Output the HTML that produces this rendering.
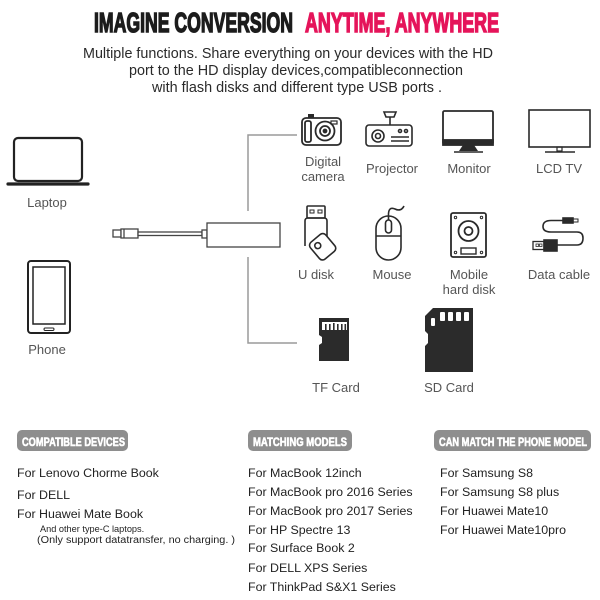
<!DOCTYPE html>
<html><head><meta charset="utf-8"><style>
html,body{margin:0;padding:0;background:#fff;}
svg{display:block;}
</style></head><body>
<svg width="600" height="600" viewBox="0 0 600 600" xmlns="http://www.w3.org/2000/svg" font-family="Liberation Sans, sans-serif">
<rect width="600" height="600" fill="#fff"/>
<!-- Title -->
<text x="94" y="32" font-size="27.5" font-weight="bold" fill="#1c1c1c" stroke="#1c1c1c" stroke-width="1.5" textLength="199" lengthAdjust="spacingAndGlyphs">IMAGINE CONVERSION</text>
<text x="305" y="32" font-size="27.5" font-weight="bold" fill="#e5145a" stroke="#e5145a" stroke-width="1.5" textLength="194" lengthAdjust="spacingAndGlyphs">ANYTIME, ANYWHERE</text>
<g fill="#2a2a2a" font-size="14.5">
<text x="83" y="58" textLength="410" lengthAdjust="spacingAndGlyphs">Multiple functions. Share everything on your devices with the HD</text>
<text x="129" y="75" textLength="334" lengthAdjust="spacingAndGlyphs">port to the HD display devices,compatibleconnection</text>
<text x="152" y="92" textLength="290" lengthAdjust="spacingAndGlyphs">with flash disks and different type USB ports .</text>
</g>

<!-- Laptop -->
<rect x="14" y="138" width="68" height="43" rx="4" fill="none" stroke="#222" stroke-width="2.2"/>
<line x1="8" y1="184" x2="88" y2="184" stroke="#222" stroke-width="3.2" stroke-linecap="round"/>
<!-- Phone -->
<rect x="28" y="261" width="42" height="72" rx="3" fill="none" stroke="#222" stroke-width="2"/>
<rect x="33" y="267" width="32" height="57" fill="none" stroke="#222" stroke-width="1.5"/>
<rect x="44" y="328" width="10" height="2.5" rx="1.2" fill="none" stroke="#222" stroke-width="1"/>

<g fill="#555" font-size="13" text-anchor="middle">
<text x="47" y="207">Laptop</text>
<text x="47" y="354">Phone</text>
</g>

<!-- Hub -->
<g fill="#fff" stroke="#444" stroke-width="1.3">
<rect x="113" y="230" width="8" height="7"/>
<rect x="121" y="229" width="17" height="9"/>
<line x1="124" y1="229" x2="124" y2="238"/>
<rect x="138" y="232" width="64" height="3.5"/>
<rect x="202" y="230" width="5" height="8"/>
<rect x="207" y="223" width="73" height="24"/>
</g>
<!-- Brackets -->
<g fill="none" stroke="#9a9a9a" stroke-width="1.5">
<polyline points="297,135 248,135 248,211"/>
<polyline points="248,257 248,343 297,343"/>
</g>

<!-- Camera -->
<g fill="none" stroke="#2a2a2a" stroke-width="1.8">
<rect x="308" y="114" width="6" height="4" fill="#2a2a2a" stroke="none"/>
<rect x="302" y="118" width="39" height="27" rx="4"/>
<rect x="305" y="121" width="6" height="21" rx="2"/>
<rect x="331" y="121" width="6" height="3" stroke-width="1.2"/>
<circle cx="325" cy="131" r="9.5"/>
<circle cx="325" cy="131" r="5"/>
<circle cx="325" cy="131" r="1.5" fill="#2a2a2a"/>
</g>
<!-- Projector -->
<g fill="none" stroke="#2a2a2a" stroke-width="1.6">
<path d="M384,112 L396,112 L394,117 L386,117 Z"/>
<line x1="390" y1="117" x2="390" y2="125"/>
<rect x="366" y="125" width="46" height="21" rx="3"/>
<circle cx="378" cy="136" r="6"/>
<circle cx="378" cy="136" r="2.5"/>
<circle cx="400" cy="131" r="1.5"/>
<circle cx="406" cy="131" r="1.5"/>
<line x1="391" y1="137" x2="409" y2="137"/>
<line x1="391" y1="141" x2="409" y2="141"/>
</g>
<!-- Monitor -->
<g fill="none" stroke="#2a2a2a" stroke-width="1.8">
<rect x="443" y="111" width="50" height="33" rx="1.5"/>
<rect x="443" y="140" width="50" height="5" fill="#2a2a2a"/>
<path d="M463,145 L474,145 L478,151 L459,151 Z" fill="#2a2a2a" stroke="none"/>
<line x1="454" y1="152" x2="483" y2="152" stroke-width="1.6"/>
</g>
<!-- LCD TV -->
<g fill="none" stroke="#2a2a2a" stroke-width="1.6">
<rect x="529" y="110" width="61" height="37"/>
<rect x="557" y="147" width="5" height="4" stroke-width="1.2"/>
<line x1="545" y1="152" x2="575" y2="152"/>
</g>
<g fill="#555" font-size="13" text-anchor="middle">
<text x="323" y="166">Digital</text>
<text x="323" y="181">camera</text>
<text x="392" y="173">Projector</text>
<text x="469" y="173">Monitor</text>
<text x="559" y="173">LCD TV</text>
</g>

<!-- U disk -->
<g fill="none" stroke="#2a2a2a" stroke-width="1.6">
<rect x="307" y="206" width="18" height="12" rx="1"/>
<rect x="310" y="210" width="4" height="3" stroke-width="1"/>
<rect x="318" y="210" width="4" height="3" stroke-width="1"/>
<path d="M305,246 L305,221 Q305,218 308,218 L324,218 Q327,218 327,221 L327,240"/>
<g transform="rotate(-40 322 246)">
<rect x="312" y="236" width="20" height="22" rx="4" fill="#fff"/>
<circle cx="319" cy="243" r="3"/>
</g>
</g>
<!-- Mouse -->
<g fill="none" stroke="#2a2a2a" stroke-width="1.6">
<rect x="376" y="216" width="25" height="44" rx="12.5"/>
<line x1="376" y1="236" x2="401" y2="236"/>
<line x1="388.5" y1="216" x2="388.5" y2="220"/>
<rect x="385.5" y="220" width="6" height="13" rx="3"/>
<path d="M388.5,216 Q388,206 395,209 Q401,212 404,206"/>
</g>
<!-- Hard disk -->
<g fill="none" stroke="#2a2a2a" stroke-width="1.8">
<rect x="451" y="213" width="35" height="44" rx="2"/>
<circle cx="468.5" cy="231" r="10"/>
<circle cx="468.5" cy="231" r="4"/>
<circle cx="455.5" cy="217.5" r="1.2" stroke-width="1"/>
<circle cx="481.5" cy="217.5" r="1.2" stroke-width="1"/>
<circle cx="455.5" cy="252.5" r="1.2" stroke-width="1"/>
<circle cx="481.5" cy="252.5" r="1.2" stroke-width="1"/>
<rect x="461" y="248" width="15" height="6" stroke-width="1.4"/>
</g>
<!-- Data cable -->
<g fill="none" stroke="#2a2a2a" stroke-width="1.6">
<path d="M563,220.5 L551,220.5 Q543,220.5 543,226.5 Q543,232 551,232 L577,232 Q583,232 583,238 Q583,245 577,245 L557,245"/>
<rect x="563" y="218" width="10" height="5" fill="#2a2a2a"/>
<rect x="573" y="219" width="5" height="3" stroke-width="1"/>
<rect x="544" y="240" width="13" height="11" fill="#2a2a2a"/>
<rect x="533" y="241.5" width="11" height="8" stroke-width="1.3"/>
<rect x="536" y="244" width="2.5" height="2.5" stroke-width="0.8"/>
<rect x="539.5" y="244" width="2.5" height="2.5" stroke-width="0.8"/>
</g>
<g fill="#555" font-size="13" text-anchor="middle">
<text x="316" y="279">U disk</text>
<text x="392" y="279">Mouse</text>
<text x="469" y="279">Mobile</text>
<text x="469" y="294">hard disk</text>
<text x="559" y="279">Data cable</text>
</g>

<!-- TF card -->
<path d="M319,318 L349,318 L349,361 L319,361 L319,345 L322,343 L322,337 L319,335 Z" fill="#2b2b2b"/>
<rect x="322" y="322" width="25" height="8" fill="#fff"/>
<g fill="#2b2b2b">
<rect x="325" y="324" width="1.6" height="6"/><rect x="329" y="324" width="1.6" height="6"/>
<rect x="333" y="323" width="1.6" height="7"/><rect x="337" y="324" width="1.6" height="6"/>
<rect x="341" y="324" width="1.6" height="6"/><rect x="344.5" y="324" width="1.6" height="6"/>
</g>
<!-- SD card -->
<path d="M433,308 L473,308 L473,372 L425,372 L425,346 L428,343 L428,334 L425,331 L425,316 Z" fill="#2b2b2b"/>
<g fill="#fff">
<rect x="440" y="312" width="5" height="9" rx="1"/>
<rect x="448" y="312" width="5" height="9" rx="1"/>
<rect x="456" y="312" width="5" height="9" rx="1"/>
<rect x="464" y="312" width="5" height="9" rx="1"/>
<rect x="431" y="318" width="4" height="8" rx="1"/>
</g>
<g fill="#555" font-size="13" text-anchor="middle">
<text x="336" y="392">TF Card</text>
<text x="449" y="392">SD Card</text>
</g>

<!-- Badges -->
<g>
<rect x="17" y="430" width="111" height="21" rx="5" fill="#8e8e8e"/>
<rect x="248" y="430" width="104" height="21" rx="5" fill="#8e8e8e"/>
<rect x="434" y="430" width="157" height="21" rx="5" fill="#8e8e8e"/>
</g>
<g fill="#fff" font-size="12" font-weight="bold" stroke="#fff" stroke-width="0.6">
<text x="22" y="446" textLength="103" lengthAdjust="spacingAndGlyphs">COMPATIBLE DEVICES</text>
<text x="253" y="446" textLength="94" lengthAdjust="spacingAndGlyphs">MATCHING MODELS</text>
<text x="439" y="446" textLength="148" lengthAdjust="spacingAndGlyphs">CAN MATCH THE PHONE MODEL</text>
</g>

<!-- Lists -->
<g fill="#222" font-size="12.4">
<text x="17" y="477">For Lenovo Chorme Book</text>
<text x="17" y="499">For DELL</text>
<text x="17" y="518">For Huawei Mate Book</text>
<text x="248" y="477">For MacBook 12inch</text>
<text x="248" y="496">For MacBook pro 2016 Series</text>
<text x="248" y="515">For MacBook pro 2017 Series</text>
<text x="248" y="534">For HP Spectre 13</text>
<text x="248" y="552">For Surface Book 2</text>
<text x="248" y="572">For DELL XPS Series</text>
<text x="248" y="591">For ThinkPad S&amp;X1 Series</text>
<text x="440" y="477">For Samsung S8</text>
<text x="440" y="496">For Samsung S8 plus</text>
<text x="440" y="515">For Huawei Mate10</text>
<text x="440" y="534">For Huawei Mate10pro</text>
</g>
<g fill="#222">
<text x="40" y="532" font-size="9.2">And other type-C laptops.</text>
<text x="37" y="543" font-size="10" textLength="198" lengthAdjust="spacingAndGlyphs">(Only support datatransfer, no charging. )</text>
</g>
</svg>
</body></html>
